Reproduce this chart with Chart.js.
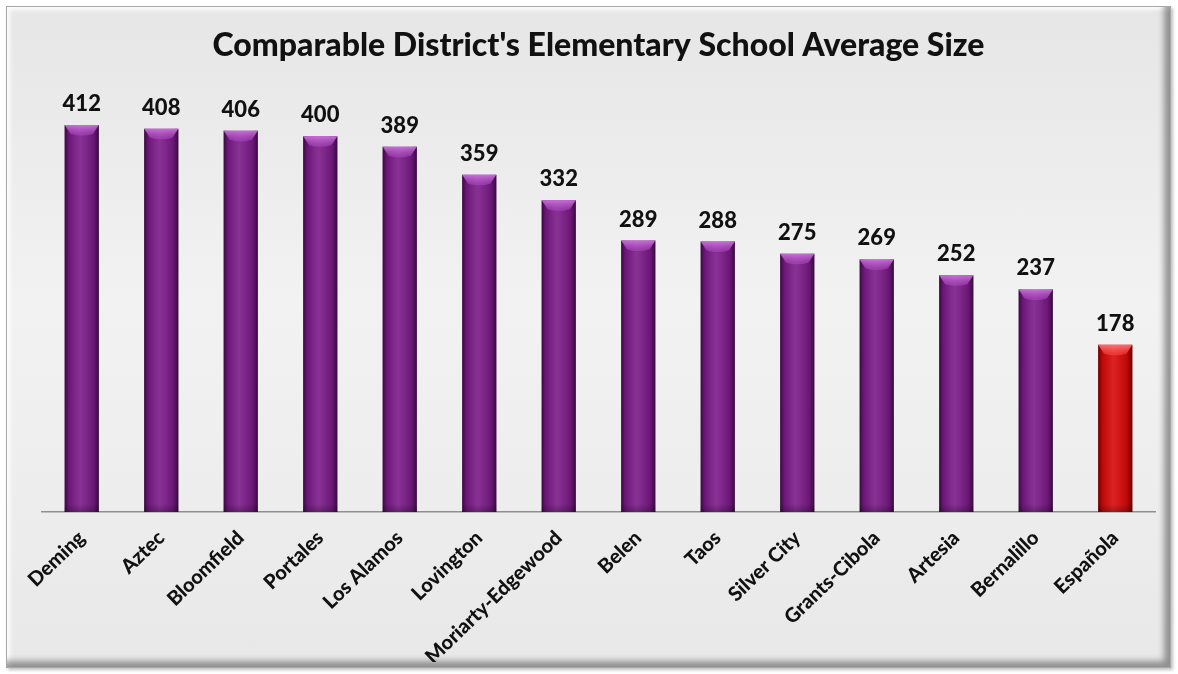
<!DOCTYPE html>
<html>
<head>
<meta charset="utf-8">
<script src="https://cdn.jsdelivr.net/npm/chart.js@4.4.1/dist/chart.umd.min.js"></script>
<style>
  html, body { margin: 0; padding: 0; background: #ffffff; }
  #frame {
    position: absolute; left: 6px; top: 6px; width: 1165px; height: 662px;
    box-sizing: border-box;
    border: 1px solid #a8a8a8;
    background: linear-gradient(180deg, #e6e6e6 0%, #f2f2f2 45%, #ededed 75%, #e8e8e8 100%);
    box-shadow: inset -8px -8px 6px -2px rgba(0,0,0,0.38), inset 4px 4px 4px -1px rgba(255,255,255,0.9), 2px 2px 3px rgba(0,0,0,0.25);
  }
  #wrap { position: absolute; left: 0; top: 0; width: 1178px; height: 674px; }
</style>
</head>
<body>
<div id="frame"></div>
<div id="wrap"><canvas id="c" width="1178" height="674"></canvas></div>
<script>
const titleText = "Comparable District's Elementary School Average Size";
const categories = ["Deming", "Aztec", "Bloomfield", "Portales", "Los Alamos", "Lovington",
  "Moriarty-Edgewood", "Belen", "Taos", "Silver City", "Grants-Cibola", "Artesia", "Bernalillo", "Española"];
const avgSize = [412, 408, 406, 400, 389, 359, 332, 289, 288, 275, 269, 252, 237, 178];
const highlight = ["Española"];

const purple = '#7a1a88';
const red = '#d80808';
const FONT = 'Lato, "Open Sans", sans-serif';

const barStyle = {
  id: 'barStyle',
  afterDatasetsDraw(chart) {
    const ctx = chart.ctx;
    const meta = chart.getDatasetMeta(0);
    meta.data.forEach((bar, i) => {
      const { x, y, base, width } = bar.getProps(['x', 'y', 'base', 'width'], true);
      const l = x - width / 2, r = x + width / 2;
      const isRed = highlight.includes(categories[i]);
      ctx.save();
      const g = ctx.createLinearGradient(l, 0, r, 0);
      g.addColorStop(0, 'rgba(0,0,0,0.55)');
      g.addColorStop(0.12, 'rgba(0,0,0,0.12)');
      g.addColorStop(0.45, 'rgba(255,255,255,0.10)');
      g.addColorStop(0.85, 'rgba(0,0,0,0.12)');
      g.addColorStop(1, 'rgba(0,0,0,0.55)');
      ctx.fillStyle = g;
      ctx.fillRect(l, y, width, base - y);
      const cap = 9;
      ctx.beginPath();
      ctx.moveTo(l, y);
      ctx.lineTo(r, y);
      ctx.lineTo(r - 6, y + cap);
      ctx.quadraticCurveTo(x, y + cap + 3, l + 6, y + cap);
      ctx.closePath();
      const cg = ctx.createLinearGradient(0, y, 0, y + cap);
      cg.addColorStop(0, isRed ? 'rgba(255,120,120,0.9)' : 'rgba(205,120,220,0.9)');
      cg.addColorStop(1, isRed ? 'rgba(255,80,80,0.5)' : 'rgba(180,80,200,0.5)');
      ctx.fillStyle = cg;
      ctx.fill();
      const bg = ctx.createLinearGradient(0, base - 8, 0, base);
      bg.addColorStop(0, 'rgba(0,0,0,0)');
      bg.addColorStop(1, 'rgba(0,0,0,0.25)');
      ctx.fillStyle = bg;
      ctx.fillRect(l, base - 8, width, 8);
      ctx.restore();
    });
  },
  afterDraw(chart) {
    const ctx = chart.ctx;
    const meta = chart.getDatasetMeta(0);
    ctx.save();
    ctx.font = '900 22px ' + FONT;
    ctx.fillStyle = '#111111';
    ctx.textAlign = 'center';
    ctx.textBaseline = 'alphabetic';
    meta.data.forEach((bar, i) => {
      ctx.fillText(String(avgSize[i]), bar.x, bar.y - 14);
    });
    ctx.restore();
  }
};

new Chart(document.getElementById('c'), {
  type: 'bar',
  data: {
    labels: categories,
    datasets: [{
      data: avgSize,
      backgroundColor: categories.map(c => highlight.includes(c) ? red : purple),
      borderWidth: 0,
      barPercentage: 0.86,
      categoryPercentage: 0.5
    }]
  },
  options: {
    responsive: false,
    animation: false,
    events: [],
    layout: { padding: { left: 42, right: 23, top: 10, bottom: 12 } },
    plugins: {
      legend: { display: false },
      tooltip: { enabled: false },
      title: {
        display: true,
        text: titleText,
        color: '#111111',
        font: { family: FONT, size: 32, weight: '900' },
        padding: { top: 16, bottom: 25 }
      }
    },
    scales: {
      x: {
        grid: { display: false, drawTicks: false },
        border: { display: true, color: '#8f8f8f', width: 1.5 },
        ticks: {
          color: '#111111',
          font: { family: FONT, size: 20, weight: '900' },
          minRotation: 44, maxRotation: 44,
          padding: 14,
          autoSkip: false
        },
        afterFit(scale) { scale.height = 150; }
      },
      y: {
        display: false,
        min: 0, max: 450
      }
    }
  },
  plugins: [barStyle]
});
</script>
</body>
</html>
